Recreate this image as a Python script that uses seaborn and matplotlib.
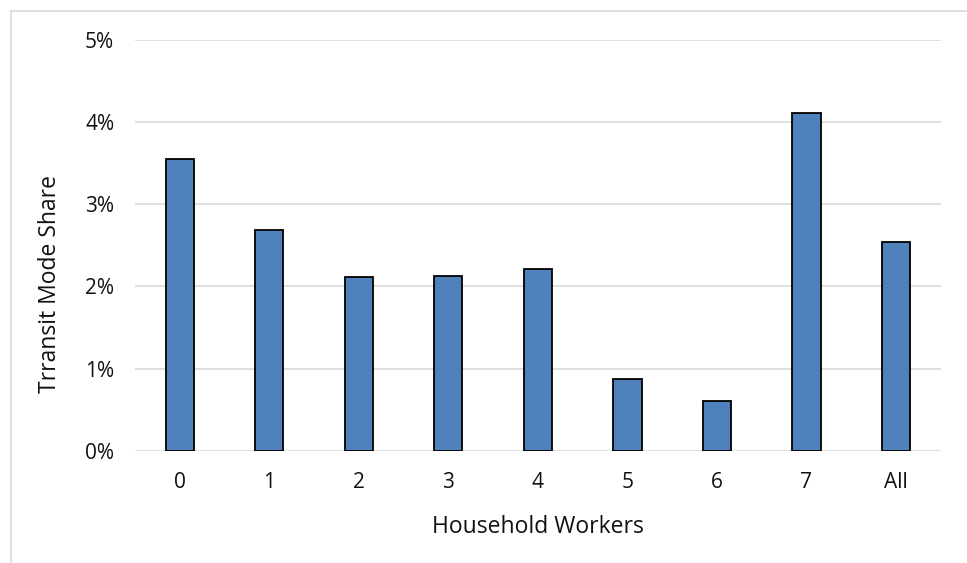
import matplotlib
matplotlib.use("Agg")
import matplotlib.pyplot as plt
import seaborn as sns
import pandas as pd
from matplotlib.patches import Rectangle
from matplotlib.ticker import PercentFormatter, MultipleLocator

categories = ["0", "1", "2", "3", "4", "5", "6", "7", "All"]
shares = [0.0355, 0.0269, 0.0211, 0.0213, 0.0221, 0.0087, 0.0060, 0.0411, 0.0254]
x_title = "Household Workers"
y_title = "Trransit Mode Share"

df = pd.DataFrame({"workers": categories, "share": shares})

sns.set_theme(style="white")
plt.rcParams["font.family"] = ["Open Sans", "DejaVu Sans"]

W, H = 967, 563
fig = plt.figure(figsize=(W / 100, H / 100), dpi=100)
ax = fig.add_axes([135 / W, 1 - 450.7 / H, (940.7 - 135) / W, (450.7 - 40) / H])

sns.barplot(data=df, x="workers", y="share", order=categories, color="#4F81BD",
            saturation=1, edgecolor="black", linewidth=1.3, width=0.316, ax=ax, zorder=3)

ax.set_xlim(-0.5, len(categories) - 0.5)
ax.set_ylim(0, 0.05)
ax.yaxis.set_major_locator(MultipleLocator(0.01))
ax.yaxis.set_major_formatter(PercentFormatter(1.0, decimals=0))
ax.grid(axis="y", color="#D9D9D9", linewidth=1.2, zorder=0)
ax.set_axisbelow(True)
for s in ax.spines.values():
    s.set_visible(False)

ax.tick_params(axis="both", length=0, labelsize=15, colors="#111111")
ax.tick_params(axis="x", pad=15)
ax.tick_params(axis="y", pad=15)

ax.set_xlabel(x_title, fontsize=16.5, color="#111111", va="center")
ax.set_ylabel(y_title, fontsize=16.5, color="#111111", va="center")
ax.xaxis.set_label_coords(0.5, -0.186)
ax.yaxis.set_label_coords(-0.105, 0.406)

border = Rectangle((10.5 / W, -0.2), 1.5, 1 - 11 / H + 0.2, transform=fig.transFigure,
                   fill=False, edgecolor="#D9D9D9", linewidth=1.2, clip_on=False)
fig.patches.append(border)

fig.savefig("out.png", dpi=100, facecolor="white")
